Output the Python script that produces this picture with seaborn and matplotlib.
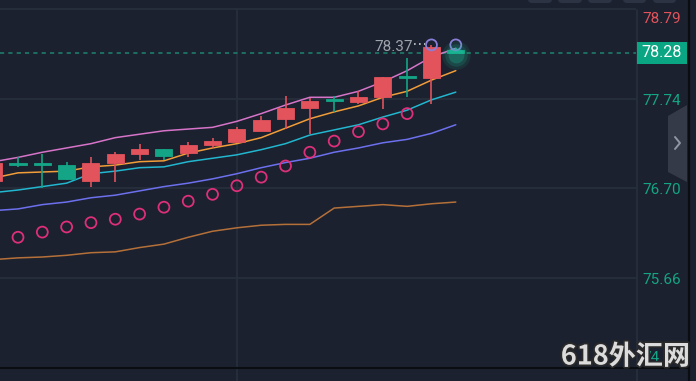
import numpy as np
import seaborn as sns
import matplotlib.pyplot as plt
from matplotlib.lines import Line2D
from matplotlib.patches import Rectangle, Polygon, FancyBboxPatch
from matplotlib import patheffects as pe
from matplotlib.transforms import blended_transform_factory, offset_copy

# K线数据 (开 高 低 收)
opens = [76.79, 76.99, 76.99, 76.97, 76.79, 77.00, 77.10, 77.16, 77.11, 77.20,
         77.24, 77.37, 77.51, 77.64, 77.73, 77.71, 77.76, 78.00, 77.99, 78.31]
highs = [77.03, 77.06, 77.10, 77.01, 77.07, 77.12, 77.22, 77.16, 77.24, 77.29,
         77.41, 77.54, 77.77, 77.75, 77.78, 77.83, 78.00, 78.22, 78.37, 78.33]
lows = [76.76, 76.95, 76.70, 76.80, 76.72, 76.77, 77.03, 77.03, 77.07, 77.17,
        77.23, 77.37, 77.39, 77.33, 77.59, 77.68, 77.62, 77.76, 77.68, 78.27]
closes = [77.00, 76.98, 76.98, 76.81, 77.00, 77.10, 77.16, 77.08, 77.20, 77.25,
          77.39, 77.50, 77.64, 77.72, 77.72, 77.76, 78.00, 77.99, 78.35, 78.28]

# 均线
ma_pink = [77.01, 77.06, 77.12, 77.17, 77.22, 77.29, 77.33, 77.37, 77.39, 77.41,
           77.48, 77.57, 77.67, 77.76, 77.76, 77.83, 77.94, 78.07, 78.23, 78.33]
ma_orange = [76.82, 76.88, 76.89, 76.90, 76.95, 76.97, 77.01, 77.02, 77.11, 77.17,
             77.22, 77.29, 77.40, 77.51, 77.59, 77.66, 77.76, 77.83, 77.96, 78.07]
ma_cyan = [76.65, 76.68, 76.72, 76.76, 76.87, 76.90, 76.94, 76.95, 77.01, 77.05,
           77.09, 77.15, 77.22, 77.32, 77.38, 77.44, 77.53, 77.61, 77.73, 77.82]
ma_blue = [76.44, 76.46, 76.51, 76.54, 76.59, 76.62, 76.67, 76.72, 76.76, 76.81,
           76.87, 76.94, 77.00, 77.05, 77.12, 77.17, 77.23, 77.27, 77.34, 77.44]
ma_brown = [75.87, 75.89, 75.90, 75.92, 75.95, 75.96, 76.01, 76.05, 76.13, 76.20,
            76.24, 76.27, 76.28, 76.28, 76.47, 76.49, 76.51, 76.49, 76.52, 76.54]

# SAR
sar = [76.06, 76.13, 76.19, 76.25, 76.30, 76.34, 76.40, 76.48, 76.55, 76.63,
       76.73, 76.83, 76.96, 77.12, 77.25, 77.36, 77.45, 77.57, 78.37, 78.37]

price_ticks = [78.79, 77.74, 76.70, 75.66, 74.62]
last_price = 78.28

W, H = 696, 381
bg = "#1b212e"
grid = "#272f3d"
red = "#e2535c"
green = "#14a586"

sns.set_theme(style="dark")
plt.rcParams['font.family'] = ['Roboto', 'DejaVu Sans']

fig = plt.figure(figsize=(W / 100, H / 100), dpi=100, facecolor=bg)
ax = fig.add_axes([0, 0, 636 / W, 1])
ax.set_facecolor(bg)
ax.set_xlim(0.26, 26.41)
ax.set_ylim(74.456, 78.893)
ax.set_xticks([])
ax.set_yticks([])
for s in ax.spines.values():
    s.set_visible(False)

ppx = (78.893 - 74.456) / H  # 每像素价格

# 网格
for p in price_ticks[:4]:
    ax.axhline(p, color=grid, lw=1.3, zorder=0)
ax.plot([10, 10], [74.456, 78.79], color=grid, lw=1.3, zorder=0)
fig.add_artist(Line2D([636.5 / W] * 2, [0, 1 - 10 / H], color=grid, lw=1.3, transform=fig.transFigure))
fig.add_artist(Line2D([0, 688 / W], [1 - 368 / H] * 2, color="#0a0d12", lw=1.5, transform=fig.transFigure))
fig.add_artist(Line2D([688.5 / W] * 2, [0, 1], color="#0a0d12", lw=1.6, transform=fig.transFigure))

# 最新价虚线
ax.axhline(last_price, color="#1d7d69", lw=1.2, ls=(0, (2.5, 2.5)), zorder=1)

idx = np.arange(len(opens))

# 均线
for ma, c in [(ma_brown, "#b5703a"), (ma_blue, "#6d70ee"), (ma_cyan, "#22b6cf"),
              (ma_orange, "#f19d3a"), (ma_pink, "#d774c9")]:
    sns.lineplot(x=idx, y=ma, color=c, lw=1.1, ax=ax, zorder=3)

# 蜡烛
o = np.array(opens)
c_ = np.array(closes)
cols = [red if cc >= oo else green for oo, cc in zip(o, c_)]
ax.vlines(idx, lows, highs, colors=cols, lw=1.2, zorder=4)
minh = 2 * ppx
body_h = np.maximum(np.abs(c_ - o), minh)
body_b = np.where(np.abs(c_ - o) < minh, (o + c_) / 2 - minh / 2, np.minimum(o, c_))
ax.bar(idx, body_h, bottom=body_b, width=0.7, color=cols, edgecolor=cols, lw=0.6, zorder=5)

# SAR
sns.scatterplot(x=idx[:18], y=sar[:18], marker='o', s=62, color="#dd2f7a",
                facecolor='none', edgecolor="#dd2f7a", linewidth=1.3, ax=ax, zorder=6)
sns.scatterplot(x=idx[18:], y=sar[18:], marker='o', s=62, color="#8a7fd8",
                facecolor='none', edgecolor="#8a7fd8", linewidth=1.3, ax=ax, zorder=6)

# 最新价光点
for s, a in [(420, 0.10), (260, 0.15), (130, 0.25)]:
    ax.scatter([idx[-1]], [last_price - 2 * ppx], s=s, color="#1ec9a2", alpha=a, lw=0, zorder=7)

# 最高价标注
hi_i = int(np.argmax(highs))
ax.text(hi_i - 0.78, highs[hi_i] - 2 * ppx, f"{highs[hi_i]:.2f}", ha='right', va='center',
        fontsize=11, color="#9ea3ad", zorder=8)
ax.plot([hi_i - 0.72, hi_i - 0.28], [highs[hi_i] + 1 * ppx] * 2, ls=(0, (1, 2)), color="#c8ccd2", lw=1.2, zorder=8)

# 价格刻度
tr = blended_transform_factory(fig.transFigure, ax.transData)
offs = [-10, -2, -2, -2, 9]
for p, dy in zip(price_ticks, offs):
    col = red if p > last_price else green
    fig.text(681 / W, p, f"{p:.2f}", ha='right', va='center', fontsize=11, color=col,
             transform=offset_copy(tr, fig=fig, y=dy, units='dots'), zorder=5)

fig.add_artist(Rectangle((637 / W, last_price - 11 * ppx), 50 / W, 22 * ppx,
                         transform=tr, color="#0aa583", lw=0, zorder=4))
fig.text(662 / W, last_price, f"{last_price:.2f}", ha='center', va='center', fontsize=11.5,
         color="white", transform=tr, zorder=6)

# 顶部按钮
for x0, x1 in [(528, 552), (558, 582), (588, 612), (623, 646), (653, 676)]:
    fig.add_artist(FancyBboxPatch((x0 / 100, (H - 3) / 100), (x1 - x0) / 100, 0.1,
                                  boxstyle="round,pad=0,rounding_size=0.04",
                                  transform=fig.dpi_scale_trans, color="#2c3444", lw=0))

# 侧边按钮
pts = [(668, 116), (687, 105), (687, 182), (668, 172)]
fig.add_artist(Polygon([(x / 100, (H - y) / 100) for x, y in pts], closed=True,
                       transform=fig.dpi_scale_trans, color="#343a47", lw=0))
fig.add_artist(Line2D([675 / 100, 680 / 100, 675 / 100], [(H - 137) / 100, (H - 143) / 100, (H - 149) / 100],
                      color="#9097a2", lw=1.4, transform=fig.dpi_scale_trans))

# 水印
fig.text(625.5 / W, 1 - 356.5 / H, "618外汇网", ha='center', va='center', fontsize=19.5,
         family=['Noto Sans CJK SC', 'DejaVu Sans'], weight='bold', color="#dcdcdc",
         path_effects=[pe.withStroke(linewidth=2.5, foreground="#2a2a2a")], zorder=20)

fig.savefig("out.png", dpi=100, facecolor=bg)
